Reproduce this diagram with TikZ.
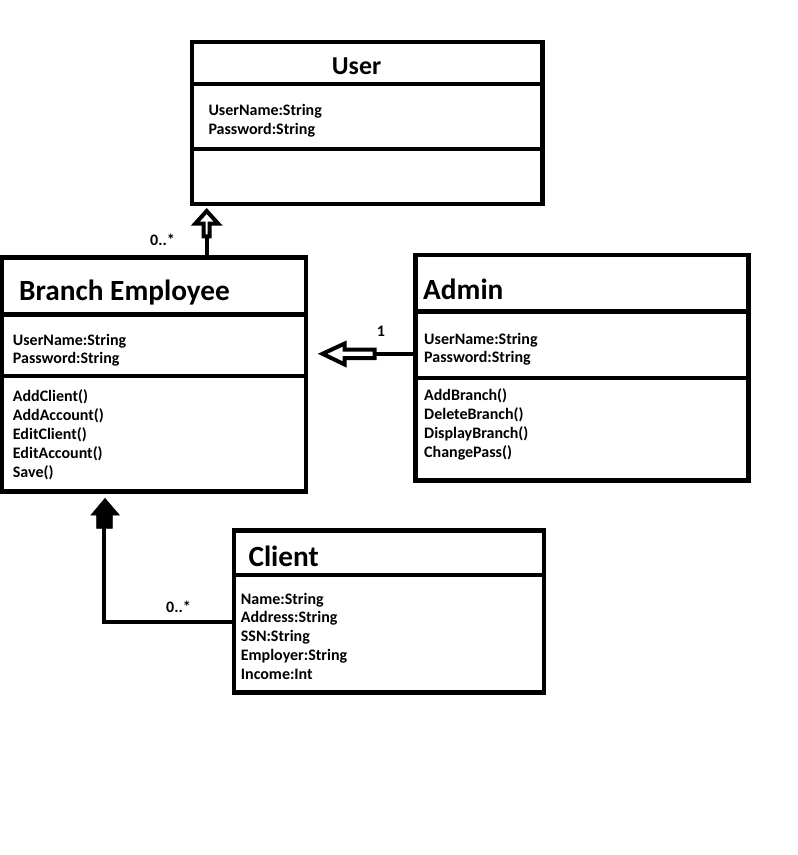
\documentclass[tikz,border=0pt]{standalone}
\usepackage{fontspec}
\setmainfont{Carlito}
\begin{document}
\begin{tikzpicture}[x=1pt,y=-1pt,
  box/.style={draw, line width=4.5pt, inner sep=0pt, outer sep=0pt, anchor=north west, rectangle},
  sepline/.style={line width=4.5pt},
  ttl/.style={anchor=base west, inner sep=0pt, font=\fontsize{29.3}{32}\selectfont\bfseries},
  ttlsmall/.style={anchor=base west, inner sep=0pt, font=\fontsize{25.8}{28}\selectfont\bfseries},
  txt/.style={anchor=base west, inner sep=0pt, font=\fontsize{16}{19}\selectfont\bfseries},
  conn/.style={line width=4.3pt},
  hollowhead/.style={draw, line width=4pt, fill=white, line join=miter},
  solidhead/.style={fill=black, draw=black, line width=0.5pt}
]
\useasboundingbox (0,0) rectangle (798,855);

% ---------- boxes ----------
\node[box, minimum width=350.5pt, minimum height=162pt] (user) at (192,42) {};
\node[box, minimum width=304pt, minimum height=234pt] (be) at (2,257.5) {};
\node[box, minimum width=332.8pt, minimum height=225.5pt] (admin) at (415.7,255) {};
\node[box, minimum width=310pt, minimum height=162pt] (client) at (234,530.5) {};

% ---------- dividers ----------
\draw[sepline] (user.west |- 0,84) -- (user.east |- 0,84);
\draw[sepline] (user.west |- 0,149) -- (user.east |- 0,149);
\draw[sepline] (be.west |- 0,314.7) -- (be.east |- 0,314.7);
\draw[sepline] (be.west |- 0,376) -- (be.east |- 0,376);
\draw[sepline] (admin.west |- 0,311.5) -- (admin.east |- 0,311.5);
\draw[sepline] (admin.west |- 0,378) -- (admin.east |- 0,378);
\draw[sepline] (client.west |- 0,575) -- (client.east |- 0,575);

% ---------- texts ----------
\node[ttlsmall] (usert) at (331.7,74.3) {User};
\node[txt] (usera1) at (208.3,115) {UserName:String};
\node[txt] (usera2) at (208.3,134.3) {Password:String};

\node[ttl] (bet) at (19,300) {Branch Employee};
\node[txt] (bea1) at (12.7,345) {UserName:String};
\node[txt] (bea2) at (12.7,363.3) {Password:String};
\node[txt] (bem1) at (12.7,401.7) {AddClient()};
\node[txt] (bem2) at (12.7,420.7) {AddAccount()};
\node[txt] (bem3) at (12.7,439.3) {EditClient()};
\node[txt] (bem4) at (12.7,458.3) {EditAccount()};
\node[txt] (bem5) at (12.7,477.3) {Save()};

\node[ttl] (admint) at (423,299.3) {Admin};
\node[txt] (admina1) at (424,344) {UserName:String};
\node[txt] (admina2) at (424,362.7) {Password:String};
\node[txt] (adminm1) at (424,400.7) {AddBranch()};
\node[txt] (adminm2) at (424,419.7) {DeleteBranch()};
\node[txt] (adminm3) at (424,438.3) {DisplayBranch()};
\node[txt] (adminm4) at (424,457.3) {ChangePass()};

\node[ttl] (clientt) at (248.3,566.7) {Client};
\node[txt] (clienta1) at (240.7,604) {Name:String};
\node[txt] (clienta2) at (240.7,622.7) {Address:String};
\node[txt] (clienta3) at (240.7,641.7) {SSN:String};
\node[txt] (clienta4) at (240.7,660.7) {Employer:String};
\node[txt] (clienta5) at (240.7,679.3) {Income:Int};

% ---------- connector: Branch Employee -> User ----------
\coordinate (u1) at (206.7,236.3);
\draw[conn] (be.north -| u1) -- (u1);
\draw[hollowhead] (206.7,211) -- (218,223.5) -- (209.7,223.5) -- (209.7,236.3)
  -- (203.7,236.3) -- (203.7,223.5) -- (195.4,223.5) -- cycle;
\node[txt] (m1) at (150,245) {0..*};

% ---------- connector: Admin -> Branch Employee ----------
\coordinate (a1) at (374.7,353.8);
\draw[conn] (admin.west |- a1) -- (a1);
\draw[hollowhead] (322.5,353.8) -- (344.7,343.5) -- (344.7,349.5) -- (374.7,349.5)
  -- (374.7,358) -- (344.7,358) -- (344.7,364.5) -- cycle;
\node[txt] (m2) at (376.7,336) {1};

% ---------- connector: Client -> Branch Employee ----------
\coordinate (c1) at (104,621.7);
\coordinate (c2) at (104,527);
\draw[conn] (client.west |- c1) -- (c1) -- (c2);
\draw[solidhead] (105,498.3) -- (119.3,515) -- (112.3,515) -- (112.3,528.3)
  -- (96.7,528.3) -- (96.7,515) -- (91,515) -- cycle;
\node[txt] (m3) at (166,612.7) {0..*};
\end{tikzpicture}
\end{document}
